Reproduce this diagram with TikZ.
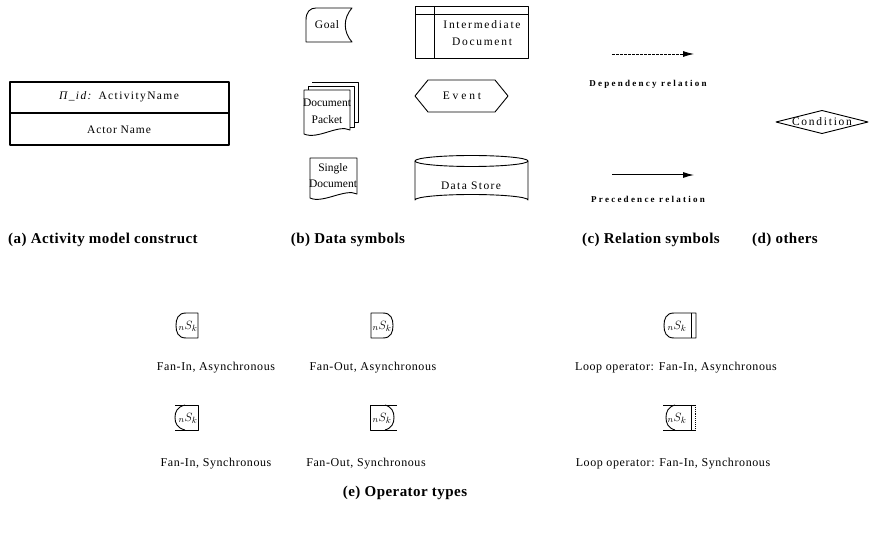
\documentclass[tikz,border=0pt]{standalone}
\usepackage{fontspec}
\setmainfont{Liberation Serif}
\usetikzlibrary{arrows.meta}
\begin{document}
\begin{tikzpicture}[x=1pt,y=-1pt,line join=round,
  every node/.style={inner sep=0pt},
  outline/.style={draw=black,line width=0.9pt},
  heavy/.style={draw=black,line width=1.4pt},
  symtext/.style={font=\fontsize{11.5}{17}\selectfont\addfontfeature{LetterSpace=#1},align=center},
  symtext/.default=10,
  captext/.style={font=\fontsize{15}{17}\selectfont\bfseries\addfontfeature{LetterSpace=3}},
  optext/.style={font=\fontsize{12}{14}\selectfont\addfontfeature{LetterSpace=5}},
  reltext/.style={font=\fontsize{9}{11}\selectfont\bfseries\addfontfeature{LetterSpace=25}},
  optag/.style={font=\fontsize{13}{14}\selectfont},
  tip/.style={-{Latex[length=11pt,width=6pt]}}]
\useasboundingbox (0,0) rectangle (895,537);

% ---------- (a) activity model construct ----------
\draw[heavy] (10,82) rectangle (229,145);
\draw[heavy] (10,113) -- (229,113);
\node[symtext=12] (actname) at (119,97) {\textit{Π\_id:} ActivityName};
\node[symtext=8] (actor) at (119,130) {Actor Name};

% ---------- (b) data symbols ----------
% goal
\draw[outline] (316,8) -- (352,8) .. controls (343,18) and (343,32) .. (352,42)
  -- (306,42) -- (306,20) .. controls (306,12) and (310,8) .. (316,8) -- cycle;
\node[symtext=5] (goal) at (327,25) {Goal};
% intermediate document
\draw[outline] (415,6) rectangle (528,58);
\draw[outline] (415,14) -- (528,14);
\draw[outline] (434,6) -- (434,58);
\node[symtext=15] (interm) at (482,33) {Intermediate\\Document};
% document packet
\draw[outline] (312,82) -- (358,82) -- (358,122) -- (354,122);
\draw[outline] (308,86) -- (308,90) (308,86) -- (354,86) -- (354,127) -- (350,127);
\draw[outline] (304,90) -- (350,90) -- (350,130) .. controls (338,124) and (318,140) .. (304,134) -- cycle;
\node[symtext=0] (packet) at (327,111) {Document\\Packet};
% event
\draw[outline] (415,96) -- (428,80) -- (495,80) -- (508,96) -- (495,112) -- (428,112) -- cycle;
\node[symtext=25] (event) at (462,96) {Event};
% single document
\draw[outline] (310,158) -- (357,158) -- (357,194) .. controls (345,188) and (323,204) .. (310,198) -- cycle;
\node[symtext=0,font=\fontsize{11.5}{16}\selectfont] (single) at (333,176) {Single\\Document};
% data store
\draw[outline] (415,161) -- (415,200) arc[start angle=180,end angle=360,x radius=56.5,y radius=5.5] -- (528,161);
\draw[outline] (471.5,161) ellipse[x radius=56.5,y radius=5.5];
\node[symtext=12] (store) at (471,186) {Data Store};

% ---------- (c) relation symbols ----------
\coordinate (dep-s) at (612,54);
\coordinate (dep-e) at (694,54);
\draw[line width=0.8pt,dash pattern=on 2.5pt off 1.5pt,tip] (dep-s) -- (dep-e);
\node[reltext] (deplbl) at (648,84) {Dependency relation};
\coordinate (pre-s) at (612,175);
\coordinate (pre-e) at (694,175);
\draw[line width=1pt,tip] (pre-s) -- (pre-e);
\node[reltext] (prelbl) at (648,199) {Precedence relation};

% ---------- (d) others ----------
\draw[outline] (776,122) -- (822,110.5) -- (868,122) -- (822,133.5) -- cycle;
\node[symtext=15] (cond) at (822,122) {Condition};

% ---------- captions ----------
\node[captext] (capa) at (103,240) {(a) Activity model construct};
\node[captext] (capb) at (348,240) {(b) Data symbols};
\node[captext] (capc) at (651,240) {(c) Relation symbols};
\node[captext] (capd) at (785,240) {(d) others};

% ---------- (e) operator types ----------
% fan-in, asynchronous
\begin{scope}[shift={(176,313)}]
  \draw[outline] (22,0) -- (10,0) .. controls (2,0) and (0,6) .. (0,12.5)
    .. controls (0,19) and (2,25) .. (10,25) -- (22,25) -- cycle;
\end{scope}
\node[optag] (fia) at (188,326) {$_{n}S_{k}$};
\node[optext] (fialbl) at (216,368) {Fan-In, Asynchronous};
% fan-out, asynchronous
\begin{scope}[shift={(371,313)}]
  \draw[outline] (0,0) -- (12,0) .. controls (20,0) and (22,6) .. (22,12.5)
    .. controls (22,19) and (20,25) .. (12,25) -- (0,25) -- cycle;
\end{scope}
\node[optag] (foa) at (382,326) {$_{n}S_{k}$};
\node[optext] (foalbl) at (373,368) {Fan-Out, Asynchronous};
% loop operator: fan-in, asynchronous
\begin{scope}[shift={(664,313)}]
  \draw[outline] (32,0) -- (10,0) .. controls (2,0) and (0,6) .. (0,12.5)
    .. controls (0,19) and (2,25) .. (10,25) -- (32,25) -- cycle;
  \draw[outline] (27,0) -- (27,25);
\end{scope}
\node[optag] (loa) at (677,326) {$_{n}S_{k}$};
\node[optext] (loalbl) at (676,368) {Loop operator: Fan-In, Asynchronous};
% fan-in, synchronous
\begin{scope}[shift={(175,405)}]
  \draw[outline] (0,0) -- (23,0) -- (23,25) -- (0,25);
  \draw[outline] (10,0) .. controls (2,2) and (0,7) .. (0,12.5)
    .. controls (0,18) and (2,23) .. (10,25);
\end{scope}
\node[optag] (fis) at (188,418) {$_{n}S_{k}$};
\node[optext] (fislbl) at (216,464) {Fan-In, Synchronous};
% fan-out, synchronous
\begin{scope}[shift={(370,405)}]
  \draw[outline] (27,0) -- (0,0) -- (0,25) -- (27,25);
  \draw[outline] (15,0) .. controls (22,2) and (24,7) .. (24,12.5)
    .. controls (24,18) and (22,23) .. (15,25);
\end{scope}
\node[optag] (fos) at (382,418) {$_{n}S_{k}$};
\node[optext] (foslbl) at (366,464) {Fan-Out, Synchronous};
% loop operator: fan-in, synchronous
\begin{scope}[shift={(663,405)}]
  \draw[outline] (0,0) -- (33,0) (0,25) -- (33,25);
  \draw[outline] (12,0) .. controls (5,2) and (3,7) .. (3,12.5)
    .. controls (3,18) and (5,23) .. (12,25);
  \draw[outline] (28,0) -- (28,25);
  \draw[line width=0.9pt,densely dotted] (32,0) -- (32,25);
\end{scope}
\node[optag] (los) at (677,418) {$_{n}S_{k}$};
\node[optext] (loslbl) at (673,464) {Loop operator: Fan-In, Synchronous};

\node[captext] (cape) at (405,493) {(e) Operator types};
\end{tikzpicture}
\end{document}
